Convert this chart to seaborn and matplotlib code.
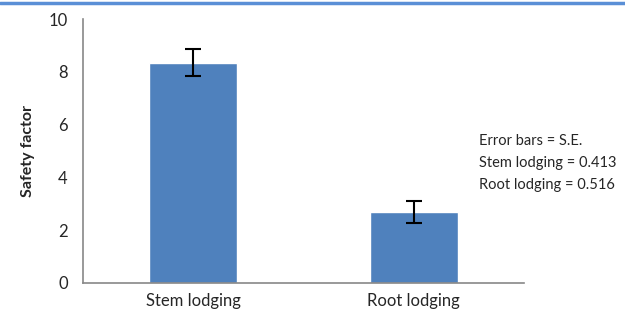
import numpy as np
import pandas as pd
import seaborn as sns
import matplotlib.pyplot as plt
from matplotlib.lines import Line2D

# data
categories = ["Stem lodging", "Root lodging"]
safety = [8.35, 2.68]
se = [0.51, 0.42]
yticks = [0, 2, 4, 6, 8, 10]
note_lines = ["Error bars = S.E.", "Stem lodging = 0.413", "Root lodging = 0.516"]

df = pd.DataFrame({"lodging": categories, "safety": safety})

sns.set_style("white")
plt.rcParams["font.family"] = ["Lato", "DejaVu Sans"]

fig = plt.figure(figsize=(6.25, 3.19), dpi=100)
ax = fig.add_axes([0.133, 0.113, 0.705, 0.827])

sns.barplot(data=df, x="lodging", y="safety", color="#4f81bd", saturation=1,
            width=0.4, errorbar=None, ax=ax)
ax.errorbar(np.arange(len(categories)), safety, yerr=se, fmt="none",
            ecolor="black", elinewidth=1.5, capsize=6, capthick=1.5)

ax.set_xlim(-0.5, 1.5)
ax.set_ylim(0, 10)
ax.set_yticks(yticks)
ax.set_xlabel("")
ax.set_ylabel("Safety factor", fontsize=11.5, fontweight="bold", labelpad=10)

grey = "#888888"
for s in ["top", "right"]:
    ax.spines[s].set_visible(False)
for s in ["left", "bottom"]:
    ax.spines[s].set_color(grey)
    ax.spines[s].set_linewidth(1.2)

ax.tick_params(axis="y", which="major", length=5, color=grey, labelsize=12, pad=6)
ax.tick_params(axis="x", which="major", length=0, labelsize=12, pad=7)
ax.set_xticks([-0.5, 0.5, 1.5], minor=True)
ax.tick_params(axis="x", which="minor", length=5, color=grey, width=1.2)

for i, line in enumerate(note_lines):
    fig.text(0.766, 0.558 - i * 0.069, line, fontsize=10.5, va="center")

fig.add_artist(Line2D([0, 1], [0.99, 0.99], color="#5a8fd6", lw=2.5,
                      transform=fig.transFigure))

fig.savefig("out.png", dpi=100)
